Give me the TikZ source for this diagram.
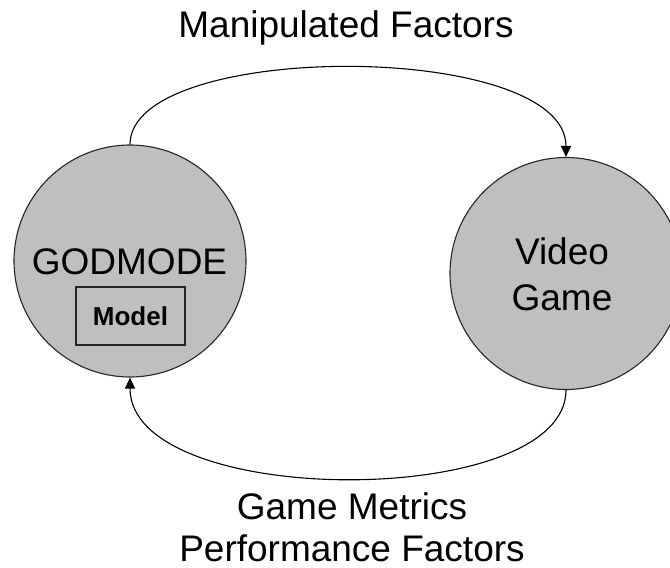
\documentclass[tikz,border=0pt]{standalone}
\usepackage{fontspec}
\setmainfont{Liberation Sans}
\usetikzlibrary{arrows.meta}
\begin{document}
\begin{tikzpicture}[x=1pt,y=-1pt,
  actor/.style={circle,draw=black!85,line width=1.1pt,fill=black!25,minimum size=232pt,inner sep=0pt},
  bigtext/.style={font=\fontsize{37}{46}\selectfont,inner sep=0pt,align=center,anchor=base},
  modelbox/.style={draw=black!85,line width=1.1pt,minimum width=109pt,minimum height=58pt,inner sep=0pt,font=\fontsize{26}{30}\selectfont\bfseries},
  flow/.style={line width=1.1pt,-{Triangle[length=11pt,width=10pt]}}]
\useasboundingbox (0,0) rectangle (670,568);
\clip (0,0) rectangle (670,568);
% the two parties of the loop
\node[actor] (god) at (130,261) {};
\node[actor] (game) at (566,273.5) {};
% inner labels (base anchor sits on the last line)
\node[bigtext] (godlabel) at (129.5,274) {GODMODE};
\node[modelbox] (model) at (130.5,316) {Model};
\node[bigtext] (gamelabel) at (562,310) {Video\\Game};
% connectors
\draw[flow] (god.north) .. controls (130,40) and (566,40) .. (game.north);
\draw[flow] (game.south) .. controls (566,510) and (130,510) .. (god.south);
% connector captions
\node[bigtext] (top) at (346,37) {Manipulated Factors};
\node[bigtext] (bottom) at (352,561) {Game Metrics\\[-4pt]Performance Factors};
\end{tikzpicture}
\end{document}
